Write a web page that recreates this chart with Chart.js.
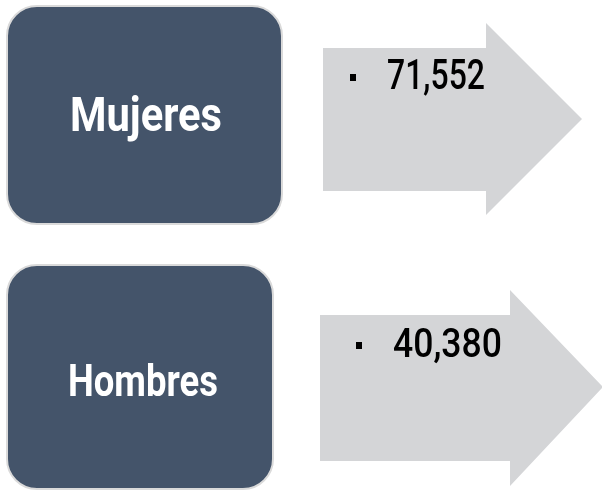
<!DOCTYPE html>
<html>
<head>
<meta charset="utf-8">
<script src="https://cdn.jsdelivr.net/npm/chart.js@4.4.1/dist/chart.umd.min.js"></script>
<style>
  html, body { margin: 0; padding: 0; background: #fff; }
  canvas { display: block; }
</style>
</head>
<body>
<canvas id="c" width="602" height="491"></canvas>
<script>
// datos
const categories = ['Mujeres', 'Hombres'];
const totals = [71552, 40380];

// forma de cada fila, relativa al centro que da la escala y
const rowShapes = [
  {
    box: { x0: 7, x1: 282, top: -109, bottom: 109 },
    label: { cx: 146, base: 16, w: 152, size: 48 },
    arrow: { x0: 323, xh: 486, tip: 582, bodyTop: -67, bodyBottom: 76, headTop: -92, headBottom: 100, tipY: 4 },
    num: { x: 387, base: -26, w: 98, size: 42, bullet: 353 }
  },
  {
    box: { x0: 7, x1: 273, top: -112, bottom: 112 },
    label: { cx: 143, base: 19, w: 150, size: 44 },
    arrow: { x0: 320, xh: 510, tip: 603, bodyTop: -62, bodyBottom: 84, headTop: -87, headBottom: 109, tipY: 10 },
    num: { x: 393, base: -20, w: 109, size: 41, bullet: 359 }
  }
];

const BOX_COLOR = '#44546a';
const BOX_BORDER = '#dadada';
const ARROW_COLOR = '#d4d5d7';

function roundRect(ctx, x, y, w, h, r) {
  ctx.beginPath();
  ctx.moveTo(x + r, y);
  ctx.arcTo(x + w, y, x + w, y + h, r);
  ctx.arcTo(x + w, y + h, x, y + h, r);
  ctx.arcTo(x, y + h, x, y, r);
  ctx.arcTo(x, y, x + w, y, r);
  ctx.closePath();
}

// texto ajustado a un ancho dado (la fuente original es condensada)
function fitText(ctx, text, x, y, w, align) {
  const m = ctx.measureText(text).width;
  ctx.save();
  ctx.translate(x, y);
  ctx.scale(w / m, 1);
  ctx.textAlign = align;
  ctx.fillText(text, 0, 0);
  ctx.restore();
}

const infographic = {
  id: 'infographic',
  afterDraw(chart) {
    const ctx = chart.ctx;
    const yScale = chart.scales.y;
    categories.forEach((cat, i) => {
      const cy = yScale.getPixelForValue(i);
      const s = rowShapes[i];

      // caja
      roundRect(ctx, s.box.x0, cy + s.box.top, s.box.x1 - s.box.x0, s.box.bottom - s.box.top, 30);
      ctx.fillStyle = BOX_COLOR;
      ctx.fill();
      ctx.lineWidth = 2;
      ctx.strokeStyle = BOX_BORDER;
      ctx.stroke();

      ctx.fillStyle = '#ffffff';
      ctx.font = 'bold ' + s.label.size + 'px Roboto';
      ctx.textBaseline = 'alphabetic';
      fitText(ctx, cat, s.label.cx, cy + s.label.base, s.label.w, 'center');

      // flecha
      const a = s.arrow;
      ctx.beginPath();
      ctx.moveTo(a.x0, cy + a.bodyTop);
      ctx.lineTo(a.xh, cy + a.bodyTop);
      ctx.lineTo(a.xh, cy + a.headTop);
      ctx.lineTo(a.tip, cy + a.tipY);
      ctx.lineTo(a.xh, cy + a.headBottom);
      ctx.lineTo(a.xh, cy + a.bodyBottom);
      ctx.lineTo(a.x0, cy + a.bodyBottom);
      ctx.closePath();
      ctx.fillStyle = ARROW_COLOR;
      ctx.fill();

      // viñeta y valor
      const n = s.num;
      const capMid = cy + n.base - 12;
      ctx.fillStyle = '#000000';
      ctx.fillRect(n.bullet - 3, capMid - 3, 6, 7);
      ctx.font = '500 ' + n.size + 'px Roboto';
      fitText(ctx, totals[i].toLocaleString('en-US'), n.x, cy + n.base, n.w, 'left');
    });
  }
};

new Chart(document.getElementById('c'), {
  type: 'bar',
  data: {
    labels: categories,
    datasets: [{
      data: totals,
      backgroundColor: 'rgba(0,0,0,0)',
      borderWidth: 0
    }]
  },
  plugins: [infographic],
  options: {
    indexAxis: 'y',
    responsive: false,
    animation: false,
    layout: { padding: { top: 115, bottom: 114, left: 0, right: 0 } },
    scales: {
      x: { display: false, min: 0 },
      y: { display: false, offset: false }
    },
    plugins: {
      legend: { display: false },
      tooltip: { enabled: false }
    }
  }
});
</script>
</body>
</html>
